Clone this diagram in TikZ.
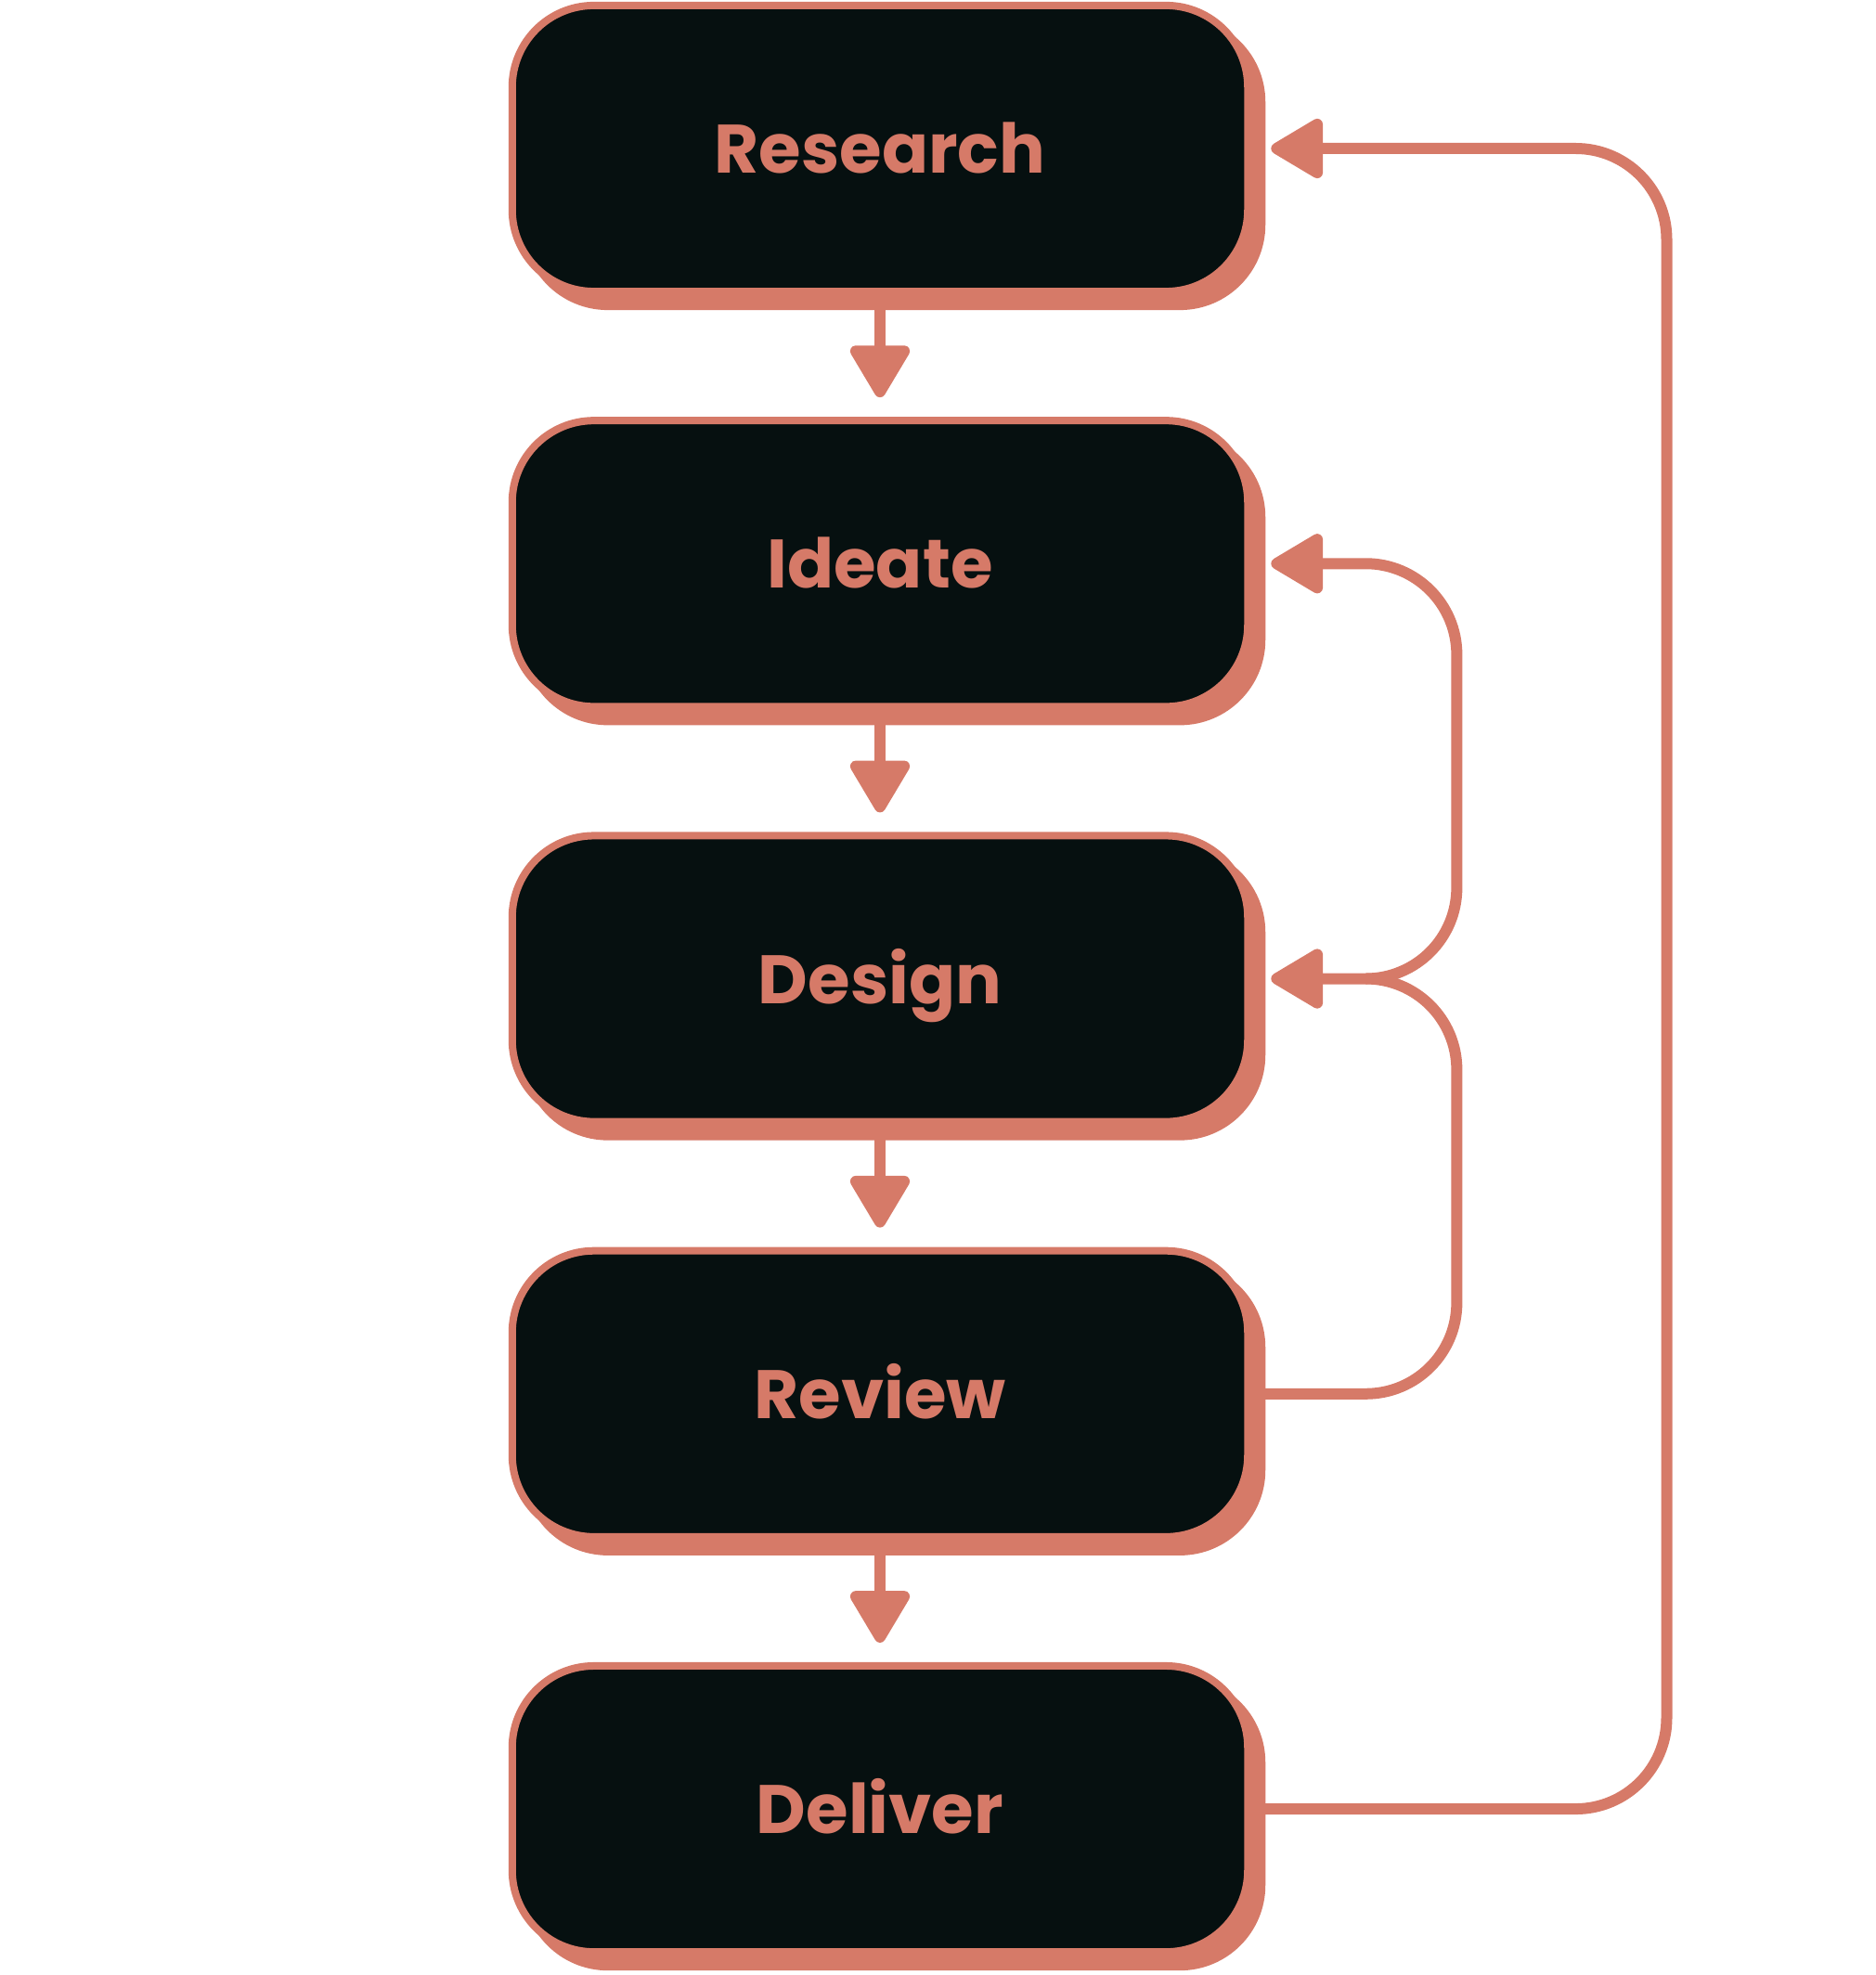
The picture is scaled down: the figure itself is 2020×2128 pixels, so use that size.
\documentclass[tikz,border=0pt]{standalone}
\usepackage{fontspec}
\setmainfont{Poppins}
\usetikzlibrary{arrows.meta,positioning,shadows,calc}
\definecolor{salmon}{HTML}{D67A68}
\definecolor{ink}{HTML}{061010}
\tikzset{stage/.style={rectangle,rounded corners=0.88cm,fill=ink,draw=salmon,line width=0.08cm,minimum width=7.92cm,minimum height=3.08cm,inner sep=0pt,text=salmon,font=\fontsize{21}{24}\selectfont\bfseries,text height=0.53cm,text depth=0pt,
            drop shadow={shadow xshift=0.15cm,shadow yshift=-0.16cm,opacity=1,fill=salmon,draw=salmon}},
         flow line/.style={draw=salmon,line width=0.12cm,shorten >=0.21cm,-{Triangle[length=0.62cm,width=0.7cm,round]}},
         back line/.style={flow line,rounded corners=0.98cm}
}

\begin{document}
\begin{tikzpicture}[x=0.01cm,y=0.01cm]
\useasboundingbox (0,0) rectangle (2020,-2128);

\node[stage] (research) at (948,-160) {Research};
\node[stage, below=1.31cm of research] (ideate) {Ideate};
\node[stage, below=1.31cm of ideate] (design) {Design};
\node[stage, below=1.31cm of design] (review) {Review};
\node[stage, below=1.31cm of review] (deliver) {Deliver};

\foreach \a/\b in {research/ideate,ideate/design,design/review,review/deliver}
    \draw[flow line] (\a) -- (\b);

% feedback loops on the right
\coordinate (far) at ($(research.east)+(4.47cm,0)$);
\coordinate (near) at ($(ideate.east)+(2.21cm,0)$);
\coordinate (split) at ($(design.east)+(1.23cm,0)$);
\draw[back line] (deliver.east) -| (far) -- (research.east);
\draw[back line] (review.east) -| (near |- design.east) -- (design.east);
\draw[back line] (split) -| (near) -- (ideate.east);
\end{tikzpicture}
\end{document}
